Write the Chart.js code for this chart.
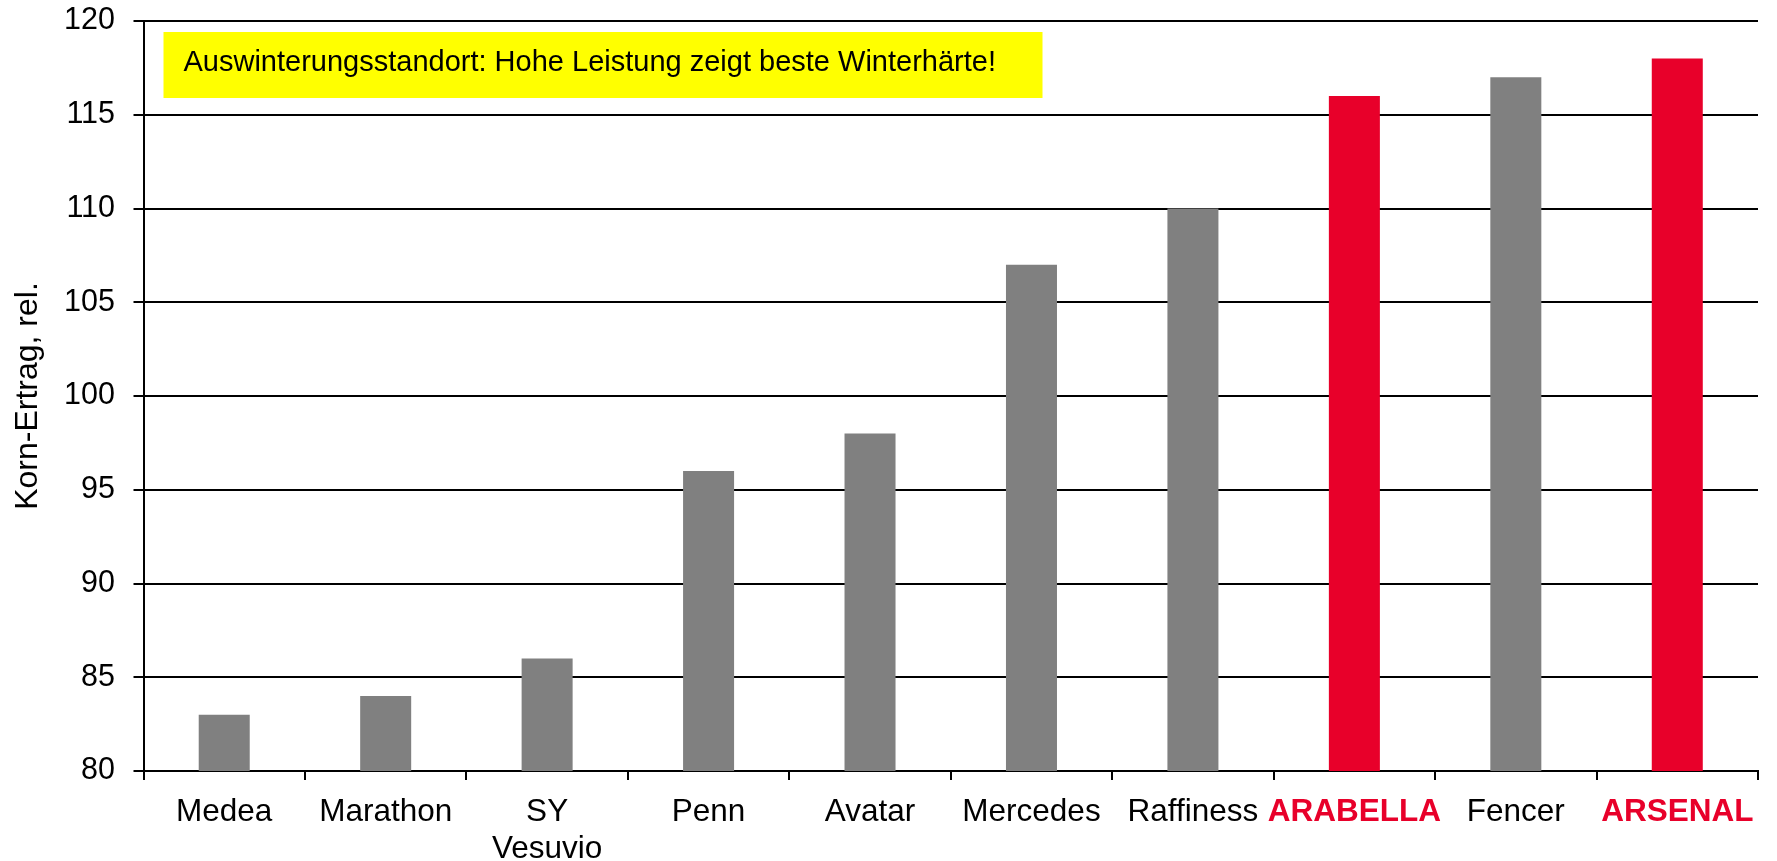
<!DOCTYPE html>
<html>
<head>
<meta charset="utf-8">
<script src="https://cdn.jsdelivr.net/npm/chart.js@4/dist/chart.umd.min.js"></script>
<style>
  body { margin: 0; background: #fff; }
</style>
</head>
<body>
<canvas id="chart" width="1777" height="861"></canvas>
<script>
var categories = ["Medea", "Marathon", ["SY", "Vesuvio"], "Penn", "Avatar", "Mercedes", "Raffiness", "ARABELLA", "Fencer", "ARSENAL"];
var yields = [83, 84, 86, 96, 98, 107, 110, 116, 117, 118];
var highlighted = [false, false, false, false, false, false, false, true, false, true];
var noteText = "Auswinterungsstandort: Hohe Leistung zeigt beste Winterhärte!";

var GREY = "#808080";
var RED = "#E8002A";
var FONT = "'Liberation Sans', Arial, sans-serif";

var notePlugin = {
    id: 'note',
    afterDraw: function(chart) {
        var ctx = chart.ctx;
        var area = chart.chartArea;
        var x = area.left + 20, y = area.top + 11;
        ctx.save();
        ctx.fillStyle = "#FFFF00";
        ctx.fillRect(x, y, 879, 66);
        ctx.fillStyle = "#000";
        ctx.font = "29px " + FONT;
        ctx.textBaseline = "alphabetic";
        ctx.fillText(noteText, x + 20, y + 39);
        ctx.restore();
    }
};

function chart(name) {
    var myChart = new Chart(document.getElementById(name), {
        type: 'bar',
        data: {
            labels: categories,
            datasets: [{
                label: "Korn-Ertrag, rel.",
                backgroundColor: highlighted.map(function(h) { return h ? RED : GREY; }),
                data: yields,
                barPercentage: 0.316,
                categoryPercentage: 1.0
            }]
        },
        options: {
            responsive: false,
            animation: false,
            layout: { padding: { top: 21, right: 19, left: 9, bottom: 0 } },
            plugins: {
                legend: { display: false },
                tooltip: { enabled: false }
            },
            scales: {
                x: {
                    offset: true,
                    grid: {
                        offset: true,
                        drawOnChartArea: false,
                        drawTicks: true,
                        tickLength: 9,
                        color: "#000",
                        lineWidth: 2
                    },
                    border: { color: "#000", width: 2 },
                    ticks: {
                        padding: 13,
                        maxRotation: 0,
                        autoSkip: false,
                        color: function(c) { return highlighted[c.index] ? RED : "#000"; },
                        font: function(c) {
                            return highlighted[c.index]
                                ? { family: FONT, size: 31.5, weight: 'bold', lineHeight: 1.2 }
                                : { family: FONT, size: 31.5, weight: 'normal', lineHeight: 1.2 };
                        }
                    },
                    afterFit: function(scale) {
                        scale.height = 90;
                    }
                },
                y: {
                    min: 80,
                    max: 120,
                    ticks: {
                        stepSize: 5,
                        padding: 18.5,
                        color: "#000",
                        font: { family: FONT, size: 30.5 }
                    },
                    grid: {
                        color: "#000",
                        lineWidth: 2,
                        tickLength: 10
                    },
                    border: { color: "#000", width: 2 },
                    title: {
                        display: true,
                        text: "Korn-Ertrag, rel.",
                        color: "#000",
                        font: { family: FONT, size: 32 },
                        padding: { top: 0, bottom: 10 }
                    },
                    afterFit: function(scale) {
                        scale.width = 134.5;
                        scale.paddingTop = 0;
                        scale.paddingBottom = 0;
                    }
                }
            }
        },
        plugins: [notePlugin]
    });
    return myChart;
}

chart("chart");
</script>
</body>
</html>
